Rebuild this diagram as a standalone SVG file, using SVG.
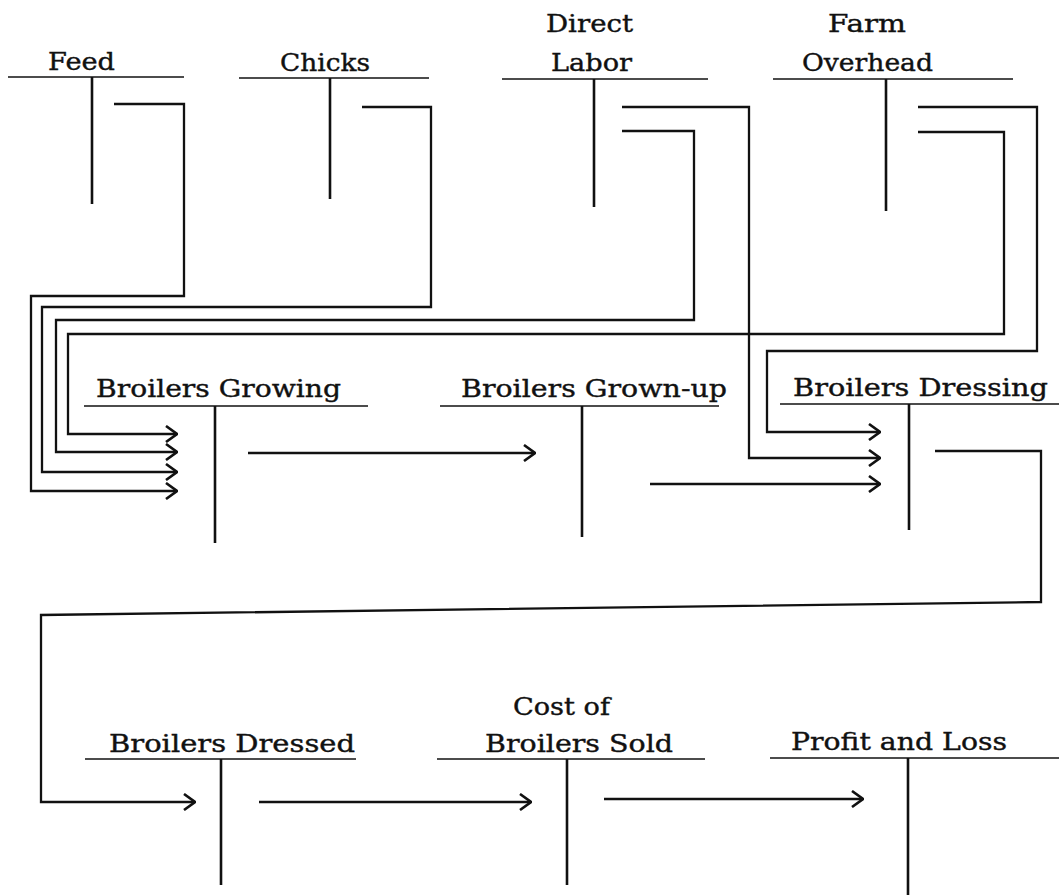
<svg xmlns="http://www.w3.org/2000/svg" width="1059" height="896" viewBox="0 0 1059 896">
<style>
.bg{fill:#fff}
.lbl{font-family:"DejaVu Serif","Liberation Serif",serif;font-size:25px;fill:#111;stroke:#111;stroke-width:0.4}
.th{stroke:#111;stroke-width:1.6;fill:none}
.tv{stroke:#111;stroke-width:2.6;fill:none}
.c{stroke:#111;stroke-width:2.3;fill:none;stroke-linejoin:miter}
.a{marker-end:url(#arr)}
</style>
<defs>
<marker id="arr" markerUnits="userSpaceOnUse" viewBox="0 0 14 18" refX="13" refY="9" markerWidth="14" markerHeight="18" orient="auto">
<path d="M2,1 L13,9 L2,17" fill="none" stroke="#111" stroke-width="2.6"/>
</marker>
</defs>
<rect class="bg" width="1059" height="896"/>

<g id="feed">
<text class="lbl" x="48" y="70" textLength="67" lengthAdjust="spacingAndGlyphs">Feed</text>
<path class="th" d="M8,77 H184"/>
<path class="tv" d="M92,77 V204"/>
</g>
<g id="chicks">
<text class="lbl" x="280" y="71" textLength="90" lengthAdjust="spacingAndGlyphs">Chicks</text>
<path class="th" d="M239,78 H429"/>
<path class="tv" d="M330,78 V199"/>
</g>
<g id="direct-labor">
<text class="lbl" x="546" y="32" textLength="87" lengthAdjust="spacingAndGlyphs">Direct</text>
<text class="lbl" x="551" y="71" textLength="81" lengthAdjust="spacingAndGlyphs">Labor</text>
<path class="th" d="M502,79 H708"/>
<path class="tv" d="M594,79 V207"/>
</g>
<g id="farm-overhead">
<text class="lbl" x="828" y="32" textLength="78" lengthAdjust="spacingAndGlyphs">Farm</text>
<text class="lbl" x="802" y="71" textLength="131" lengthAdjust="spacingAndGlyphs">Overhead</text>
<path class="th" d="M773,79 H1013"/>
<path class="tv" d="M886,79 V211"/>
</g>
<g id="broilers-growing">
<text class="lbl" x="96" y="397" textLength="245" lengthAdjust="spacingAndGlyphs">Broilers Growing</text>
<path class="th" d="M84,406 H368"/>
<path class="tv" d="M215,406 V543"/>
</g>
<g id="broilers-grown-up">
<text class="lbl" x="461" y="397" textLength="266" lengthAdjust="spacingAndGlyphs">Broilers Grown-up</text>
<path class="th" d="M440,406 H719"/>
<path class="tv" d="M582,406 V537"/>
</g>
<g id="broilers-dressing">
<text class="lbl" x="793" y="396" textLength="255" lengthAdjust="spacingAndGlyphs">Broilers Dressing</text>
<path class="th" d="M780,404 H1059"/>
<path class="tv" d="M909,404 V530"/>
</g>
<g id="broilers-dressed">
<text class="lbl" x="109" y="752" textLength="246" lengthAdjust="spacingAndGlyphs">Broilers Dressed</text>
<path class="th" d="M85,759 H356"/>
<path class="tv" d="M221,759 V885"/>
</g>
<g id="cost-of-broilers-sold">
<text class="lbl" x="513" y="715" textLength="97" lengthAdjust="spacingAndGlyphs">Cost of</text>
<text class="lbl" x="485" y="752" textLength="188" lengthAdjust="spacingAndGlyphs">Broilers Sold</text>
<path class="th" d="M437,759 H705"/>
<path class="tv" d="M567,759 V885"/>
</g>
<g id="profit-and-loss">
<text class="lbl" x="791" y="750" textLength="216" lengthAdjust="spacingAndGlyphs">Profit and Loss</text>
<path class="th" d="M770,758 H1059"/>
<path class="tv" d="M908,758 V895"/>
</g>

<g id="connectors">
<path class="c a" d="M114,104 H184 V296 H31 V491 H177"/>
<path class="c a" d="M362,107 H431 V307 H42 V472 H177"/>
<path class="c a" d="M622,131 H694 V320 H56 V452 H177"/>
<path class="c a" d="M918,132 H1004 V334 H68 V434 H177"/>
<path class="c a" d="M622,107 H749 V458 H880"/>
<path class="c a" d="M918,107 H1037 V351 H767 V432 H880"/>
<path class="c a" d="M650,484 H880"/>
<path class="c a" d="M248,453 H535"/>
<path class="c a" d="M935,451 H1041 V602 L41,615 V802 H195"/>
<path class="c a" d="M259,802 H531"/>
<path class="c a" d="M604,799 H863"/>
</g>
</svg>
